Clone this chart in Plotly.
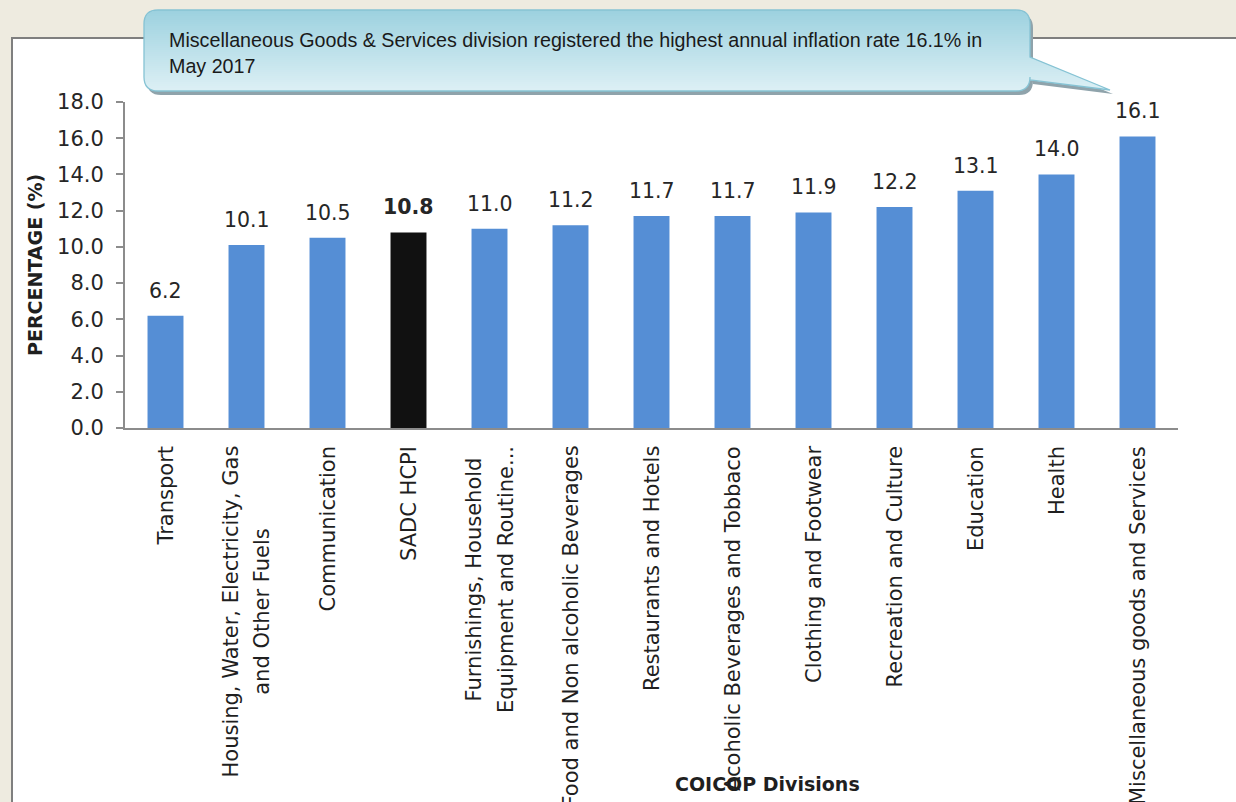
import plotly.graph_objects as go

categories = ["Transport", "Housing, Water, Electricity, Gas<br>and Other Fuels", "Communication",
              "SADC HCPI", "Furnishings, Household<br>Equipment and Routine...",
              "Food and Non alcoholic Beverages", "Restaurants and Hotels",
              "Acoholic Beverages and Tobbaco", "Clothing and Footwear",
              "Recreation and Culture", "Education", "Health",
              "Miscellaneous goods and Services"]
values = [6.2, 10.1, 10.5, 10.8, 11.0, 11.2, 11.7, 11.7, 11.9, 12.2, 13.1, 14.0, 16.1]
highlight = "SADC HCPI"
y_ticks = [0, 2, 4, 6, 8, 10, 12, 14, 16, 18]
callout_text = ("Miscellaneous Goods & Services division registered the highest annual inflation rate 16.1% in"
                "<br>May 2017")

W, H = 1236, 802
L, R, T, B = 125, 58, 102, 374
PW, PH = W - L - R, H - T - B


def px(x):
    return (x - L) / PW


def py(y):
    return (H - B - y) / PH


BLUE = "#558ED5"
NUM_FONT = "DejaVu Sans"
TXT = "#1f1f1f"

colors = ["#111111" if c == highlight else BLUE for c in categories]

fig = go.Figure(go.Bar(x=categories, y=values, marker=dict(color=colors, line=dict(width=0)),
                       showlegend=False, hoverinfo="x+y"))

annotations = []
for c, v in zip(categories, values):
    t = f"{v:.1f}"
    if c == highlight:
        t = f"<b>{t}</b>"
    annotations.append(dict(x=c, y=v, xref="x", yref="y", text=t, showarrow=False,
                            yanchor="bottom", yshift=11,
                            font=dict(family=NUM_FONT, size=20.5, color="#262626")))
    lab = "<br>".join(f"<span style='font-size:21px'>{part}</span>" for part in c.split("<br>"))
    annotations.append(dict(x=c, y=py(444), xref="x", yref="paper", text=lab, showarrow=False,
                            textangle=-90, yanchor="top", xanchor="center", align="center",
                            font=dict(family=NUM_FONT, size=24.5, color=TXT)))

annotations.append(dict(x=px(35), y=py(265), xref="paper", yref="paper", text="<b>PERCENTAGE (%)</b>",
                        showarrow=False, textangle=-90, xanchor="center", yanchor="middle",
                        font=dict(family=NUM_FONT, size=19, color=TXT)))
annotations.append(dict(x=px(767), y=py(784), xref="paper", yref="paper", text="<b>COICOP Divisions</b>",
                        showarrow=False, xanchor="center", yanchor="middle",
                        font=dict(family=NUM_FONT, size=19, color=TXT)))
annotations.append(dict(x=px(167), y=py(27), xref="paper", yref="paper", text=callout_text,
                        showarrow=False, xanchor="left", yanchor="top", align="left",
                        font=dict(family="Liberation Sans", size=19.7, color="#1a1a1a")))

# ---- callout decoration (pixel geometry) ----
CX0, CY0, CX1, CY1, CR = 144, 10, 1030, 91, 14
TAIL = (57, 1110, 90, 80)  # top join y, tip x, tip y, bottom join y


def P(x, y):
    return f"{px(x):.5f},{py(y):.5f}"


def callout_path(dx=0, dy=0):
    x0, y0, x1, y1, r = CX0 + dx, CY0 + dy, CX1 + dx, CY1 + dy, CR
    ty0, tipx, tipy, ty1 = TAIL[0] + dy, TAIL[1] + dx, TAIL[2] + dy, TAIL[3] + dy
    return (f"M {P(x0 + r, y0)} L {P(x1 - r, y0)} Q {P(x1, y0)} {P(x1, y0 + r)} "
            f"L {P(x1, ty0)} L {P(tipx, tipy)} L {P(x1, ty1)} "
            f"L {P(x1, y1 - r)} Q {P(x1, y1)} {P(x1 - r, y1)} "
            f"L {P(x0 + r, y1)} Q {P(x0, y1)} {P(x0, y1 - r)} "
            f"L {P(x0, y0 + r)} Q {P(x0, y0)} {P(x0 + r, y0)} Z")


def body_extent(y):
    d = 0.0
    if y < CY0 + CR:
        t = CR - (y - CY0)
        d = CR - max(CR * CR - t * t, 0) ** 0.5
    elif y > CY1 - CR:
        t = CR - (CY1 - y)
        d = CR - max(CR * CR - t * t, 0) ** 0.5
    return CX0 + d, CX1 - d


def tail_extent(y):
    ty0, tipx, tipy, ty1 = TAIL
    y = min(max(y, ty0), tipy)
    right = CX1 + (y - ty0) * (tipx - CX1) / (tipy - ty0)
    left = CX1 if y <= ty1 else CX1 + (y - ty1) * (tipx - CX1) / (tipy - ty1)
    return left - 1, right


def mix(c1, c2, f):
    a = [int(c1[i:i + 2], 16) for i in (1, 3, 5)]
    b = [int(c2[i:i + 2], 16) for i in (1, 3, 5)]
    return "#" + "".join(f"{round(a[k] + (b[k] - a[k]) * f):02x}" for k in range(3))


shapes = [
    dict(type="rect", xref="paper", yref="paper", x0=px(12), y0=py(38), x1=px(1260), y1=py(830),
         fillcolor="white", line=dict(color="#7F7F7F", width=2), layer="below"),
    dict(type="path", xref="paper", yref="paper", path=callout_path(3, 4),
         fillcolor="#8FA3AB", line=dict(width=0), layer="above"),
    dict(type="path", xref="paper", yref="paper", path=callout_path(),
         fillcolor="#C4E4EC", line=dict(width=0), layer="above"),
]
TOP_C, BOT_C = "#9CD1DF", "#DDF0F5"
step = 2
y = CY0
while y < CY1:
    ya, yb = y, min(y + step, CY1)
    f = (ya + yb) / 2
    col = mix(TOP_C, BOT_C, (f - CY0) / (CY1 - CY0))
    la, ra = body_extent(ya)
    lb, rb = body_extent(yb)
    shapes.append(dict(type="path", xref="paper", yref="paper",
                       path=f"M {P(la, ya)} L {P(ra, ya)} L {P(rb, yb)} L {P(lb, yb)} Z",
                       fillcolor=col, line=dict(width=0), layer="above"))
    if yb > TAIL[0] and ya < TAIL[2]:
        l1, r1 = tail_extent(ya)
        l2, r2 = tail_extent(yb)
        shapes.append(dict(type="path", xref="paper", yref="paper",
                           path=f"M {P(l1, max(ya, TAIL[0]))} L {P(r1, max(ya, TAIL[0]))} "
                                f"L {P(r2, min(yb, TAIL[2]))} L {P(l2, min(yb, TAIL[2]))} Z",
                           fillcolor=col, line=dict(width=0), layer="above"))
    y = yb
shapes.append(dict(type="path", xref="paper", yref="paper", path=callout_path(),
                   fillcolor="rgba(0,0,0,0)", line=dict(color="#86C3D4", width=1.3), layer="above"))

fig.update_layout(
    width=W, height=H,
    margin=dict(l=L, r=R, t=T, b=B, autoexpand=False),
    paper_bgcolor="#EEEBE0",
    plot_bgcolor="rgba(0,0,0,0)",
    bargap=0.556,
    shapes=shapes,
    annotations=annotations,
    xaxis=dict(type="category", showticklabels=False, showline=True, linecolor="#8C8C8C",
               linewidth=2, ticks="", showgrid=False, zeroline=False, fixedrange=True),
    yaxis=dict(range=[0, 18], tickvals=y_ticks, tickformat=".1f", showline=True,
               linecolor="#8C8C8C", linewidth=2, ticks="outside", ticklen=7, tickwidth=2,
               tickcolor="#8C8C8C", showgrid=False, zeroline=False, ticklabelstandoff=8,
               tickfont=dict(family=NUM_FONT, size=21, color="#262626"), fixedrange=True),
)

fig.write_html("out.html", config={"displayModeBar": False},
               post_script="document.body.style.margin='0';document.body.style.background='#EEEBE0';")
